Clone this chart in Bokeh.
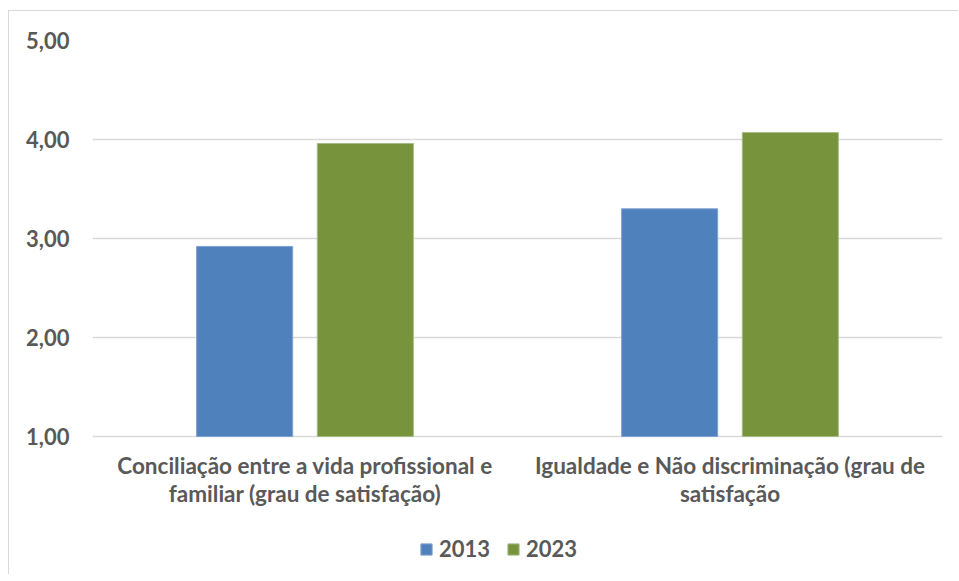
from bokeh.plotting import figure
from bokeh.models import ColumnDataSource, FixedTicker, Legend, LegendItem, Range1d
from bokeh.core.properties import value
from bokeh.embed import file_html
from bokeh.resources import INLINE

categories = ["Conciliação entre a vida profissional e\nfamiliar (grau de satisfação)",
              "Igualdade e Não discriminação (grau de\nsatisfação"]
years = ["2013", "2023"]
values_2013 = [2.92, 3.30]
values_2023 = [3.96, 4.07]
y_ticks = [1, 2, 3, 4, 5]
y_tick_labels = ["1,00", "2,00", "3,00", "4,00", "5,00"]

colors = {"2013": "#4F81BD", "2023": "#77933C"}
FONT = "Lato"
TXT = "#595959"

PX_PER_UNIT = 99.0
FRAME_H = 535
Y_MIN, Y_MAX = 1, 5
y_start = Y_MAX - FRAME_H / PX_PER_UNIT
label_y = Y_MIN - 15 / PX_PER_UNIT

centers = [i + 0.5 for i in range(len(categories))]
src13 = ColumnDataSource(dict(x=[c - 0.142 for c in centers], top=values_2013))
src23 = ColumnDataSource(dict(x=[c + 0.142 for c in centers], top=values_2023))
src_lab = ColumnDataSource(dict(x=centers, y=[label_y] * len(centers), text=categories))

p = figure(frame_width=850, frame_height=FRAME_H, output_backend="svg", toolbar_location=None,
           x_range=Range1d(0, len(categories)), y_range=Range1d(y_start, Y_MAX),
           min_border_left=83, min_border_right=17, min_border_top=29, min_border_bottom=0)
p.styles = {"position": "relative", "left": "9px", "top": "11px",
            "box-shadow": "-1px -1px 0 #D9D9D9"}
p.outline_line_color = None
p.background_fill_color = "white"
p.border_fill_color = "white"

r13 = p.vbar(x="x", top="top", bottom=Y_MIN, width=0.226, source=src13,
             fill_color=colors["2013"], line_color="#7FA2D0", line_width=1)
r23 = p.vbar(x="x", top="top", bottom=Y_MIN, width=0.226, source=src23,
             fill_color=colors["2023"], line_color="#A5BC85", line_width=1)

p.text(x="x", y="y", text="text", source=src_lab,
       text_font=value(FONT), text_font_style="bold", text_font_size="22.5px",
       text_color=TXT, text_align="center", text_baseline="top", text_line_height=1.05)

p.xgrid.grid_line_color = None
p.xaxis.visible = False
p.ygrid.grid_line_color = "#D9D9D9"
p.ygrid.grid_line_width = 1.5
p.yaxis.ticker = FixedTicker(ticks=y_ticks)
p.yaxis.major_label_overrides = {t: l for t, l in zip(y_ticks, y_tick_labels)}
p.yaxis.axis_line_color = None
p.yaxis.major_tick_line_color = None
p.yaxis.minor_tick_line_color = None
p.yaxis.major_tick_out = 0
p.yaxis.major_tick_in = 0
p.yaxis.major_label_standoff = 23
p.yaxis.major_label_text_font = FONT
p.yaxis.major_label_text_font_style = "bold"
p.yaxis.major_label_text_font_size = "22px"
p.yaxis.major_label_text_color = TXT

legend = Legend(items=[LegendItem(label=years[0], renderers=[r13]),
                       LegendItem(label=years[1], renderers=[r23])],
                orientation="horizontal", location=(327, 13))
legend.border_line_color = None
legend.background_fill_alpha = 0
legend.label_text_font = FONT
legend.label_text_font_style = "bold"
legend.label_text_font_size = "22px"
legend.label_text_color = TXT
legend.label_height = 26
legend.glyph_width = 14
legend.glyph_height = 14
legend.spacing = 16
legend.label_standoff = 6
legend.padding = 0
legend.margin = 0
p.add_layout(legend, "center")

open("out.html", "w").write(file_html(p, INLINE))
